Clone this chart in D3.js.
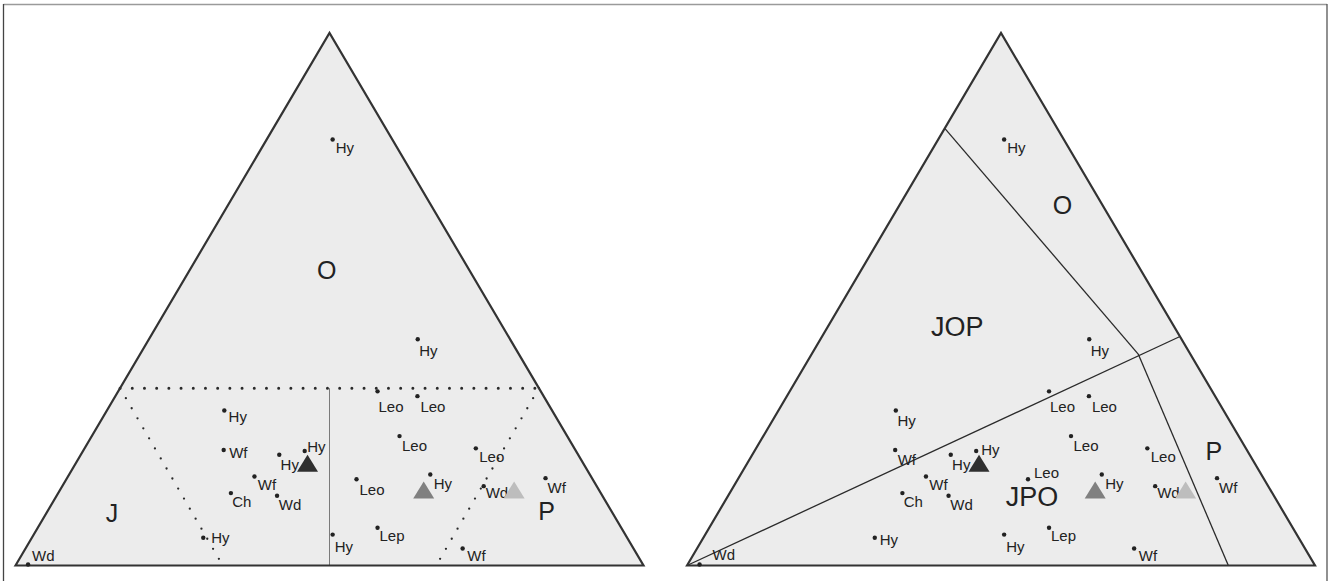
<!DOCTYPE html>
<html><head><meta charset="utf-8">
<script src="https://cdn.jsdelivr.net/npm/d3@7"></script>
<style>
body{margin:0;background:#fff}
svg{display:block}
text{font-family:"Liberation Sans",Arial,Helvetica,sans-serif}
</style>
</head><body>
<svg id="chart" width="1330" height="581"></svg>
<script>
// ---------------- DATA (ternary shares, %) ----------------
const species = ["Hy","Hy","Leo","Leo","Hy","Leo","Leo","Wf","Hy","Hy","Hy","Leo","Wf","Wf","Wd","Ch","Wd","Lep","Hy","Hy","Wf","Wd"];
const shareJ  = [9.5,14.7,26.0,20.1,52.2,26.7,15.7,56.0,47.6,43.2,25.4,37.6,53.6,7.4,18.0,58.9,51.8,38.8,46.6,67.5,27.2,97.9];
const shareO  = [80.0,42.5,32.7,31.8,29.1,24.3,22.0,21.7,20.8,21.5,17.1,16.2,16.7,16.4,14.9,13.6,13.1,7.1,5.8,5.2,3.2,0.2];
const shareP  = [10.5,42.8,41.3,48.1,18.7,49.0,62.3,22.3,31.6,35.3,57.5,46.2,29.7,76.2,67.1,27.5,35.1,54.1,47.6,27.3,69.6,1.9];

const centroidJ = [43.9,27.9,13.5];
const centroidO = [19.2,14.2,14.2];
const centroidP = [36.9,57.9,72.3];

// boundary segments [J,O,P] -> [J,O,P]
const leftDottedLines = [
  [[66.7,33.3,0],[0,33.3,66.7]],
  [[66.7,33.3,0],[67,0,33]],
  [[0,33.3,66.7],[33,0,67]]
];
const leftSolidLines = [
  [[33.35,33.3,33.35],[50,0,50]]
];
const rightSolidLines = [
  [[17.9,82.1,0],[8.3,39.7,52.0]],
  [[8.3,39.7,52.0],[13.8,0,86.2]],
  [[100,0,0],[0,43,57]]
];

const leftRegionNames = ["O","J","P"];
const leftRegionJ = [22.7,79.7,10.4];
const leftRegionO = [55.5,9.9,10.1];
const leftRegionP = [21.8,10.4,79.5];
const rightRegionNames = ["O","JOP","JPO","P"];
const rightRegionJ = [6.4,34.5,38.6,5.4];
const rightRegionO = [67.6,44.9,12.9,21.4];
const rightRegionP = [26.0,20.6,48.5,73.2];

// ---------------- STYLE / LAYOUT ----------------
const centroidColors = ["#2f2f2f","#808080","#bdbdbd"];
const panels = [
  {x0:15.5, x1:643.5, yb:565.5, yt:33},
  {x0:687,  x1:1315,  yb:565.5, yt:33}
];
// label offsets (dx to text start, dy to text middle)
const labelOffsetLeft = [[3,8.5],[1.5,11.7],[1,15.7],[3,10.7],[4.3,6],[2.5,9.3],[3.4,8],[5.5,3.3],[1.3,9.7],[2.5,-4],[3.4,9.7],[3,10.3],[3.4,8],[2,9.7],[2,6.3],[1.3,9],[1.7,9.3],[2,8],[2,11.7],[8,0],[4.7,7.7],[4,-9]];
const labelOffsetRight = labelOffsetLeft.map(d=>d.slice());
labelOffsetRight[4]=[1.7,10.7];
labelOffsetRight[7]=[2.5,9.7];
labelOffsetRight[9]=[5,-1];
labelOffsetRight[11]=[6,-6];
labelOffsetRight[19]=[5,1.7];
labelOffsetRight[21]=[13,-9.5];

const svg = d3.select("#chart");

// frame
svg.append("line").attr("x1",3.5).attr("x2",1327).attr("y1",4.5).attr("y2",4.5).attr("stroke","#9a9a9a").attr("stroke-width",1.5);
svg.append("line").attr("x1",3.5).attr("x2",3.5).attr("y1",4).attr("y2",581).attr("stroke","#444").attr("stroke-width",1.3);
svg.append("line").attr("x1",1327).attr("x2",1327).attr("y1",4).attr("y2",581).attr("stroke","#555").attr("stroke-width",1.3);

function drawPanel(p, idx){
  const x = d3.scaleLinear().domain([0,100]).range([p.x0,p.x1]);
  const y = d3.scaleLinear().domain([0,100]).range([p.yb,p.yt]);
  const px = (j,o,pp) => x(pp + o/2);
  const py = (j,o,pp) => y(o);
  const g = svg.append("g");
  const verts = [[100,0,0],[0,100,0],[0,0,100]].map(v=>[px(...v),py(...v)]);
  const line = d3.line();
  g.append("path").attr("d", line(verts)+"Z").attr("fill","#ececec").attr("stroke","none");

  if(idx===0){
    g.selectAll(null).data(leftSolidLines).join("line")
      .attr("x1",d=>px(...d[0])).attr("y1",d=>py(...d[0]))
      .attr("x2",d=>px(...d[1])).attr("y2",d=>py(...d[1]))
      .attr("stroke","#7a7a7a").attr("stroke-width",1);
    g.selectAll(null).data(leftDottedLines).join("line")
      .attr("x1",d=>px(...d[0])).attr("y1",d=>py(...d[0]))
      .attr("x2",d=>px(...d[1])).attr("y2",d=>py(...d[1]))
      .attr("stroke","#2a2a2a").attr("stroke-width",(d,i)=>i===0?3:2.3)
      .attr("stroke-linecap","round").attr("stroke-dasharray",(d,i)=>i===0?"0,12.2":"0,11.6");
  } else {
    g.selectAll(null).data(rightSolidLines).join("line")
      .attr("x1",d=>px(...d[0])).attr("y1",d=>py(...d[0]))
      .attr("x2",d=>px(...d[1])).attr("y2",d=>py(...d[1]))
      .attr("stroke","#2a2a2a").attr("stroke-width",1.3);
  }

  g.append("path").attr("d", line(verts)+"Z").attr("fill","none")
    .attr("stroke","#333").attr("stroke-width",2.2).attr("stroke-linejoin","miter");

  const offs = idx===0 ? labelOffsetLeft : labelOffsetRight;
  const pts = species.map((s,i)=>({s, j:shareJ[i], o:shareO[i], p:shareP[i], off:offs[i]}));
  g.selectAll(null).data(pts).join("circle")
    .attr("cx",d=>px(d.j,d.o,d.p)).attr("cy",d=>py(d.j,d.o,d.p)).attr("r",2.2).attr("fill","#222");
  g.selectAll(null).data(pts).join("text")
    .attr("x",d=>px(d.j,d.o,d.p)+d.off[0]).attr("y",d=>py(d.j,d.o,d.p)+d.off[1])
    .attr("dy","0.35em").attr("font-size",15).attr("fill","#222").text(d=>d.s);

  const names = idx===0?leftRegionNames:rightRegionNames;
  const rJ = idx===0?leftRegionJ:rightRegionJ, rO = idx===0?leftRegionO:rightRegionO, rP = idx===0?leftRegionP:rightRegionP;
  g.selectAll(null).data(names).join("text")
    .attr("x",(d,i)=>px(rJ[i],rO[i],rP[i])).attr("y",(d,i)=>py(rJ[i],rO[i],rP[i]))
    .attr("dy","0.35em").attr("text-anchor","middle")
    .attr("font-size",d=>d.length>1?27:25).attr("fill","#222").text(d=>d);

  const cents = centroidJ.map((j,i)=>({j,o:centroidO[i],p:centroidP[i],c:centroidColors[i]}));
  g.selectAll(null).data(cents).join("path")
    .attr("d",d=>{const cx=px(d.j,d.o,d.p), cy=py(d.j,d.o,d.p);
      return `M${cx},${cy-8.5}L${cx+10.5},${cy+8.5}L${cx-10.5},${cy+8.5}Z`;})
    .attr("fill",d=>d.c);
}
panels.forEach(drawPanel);
</script>
</body></html>
